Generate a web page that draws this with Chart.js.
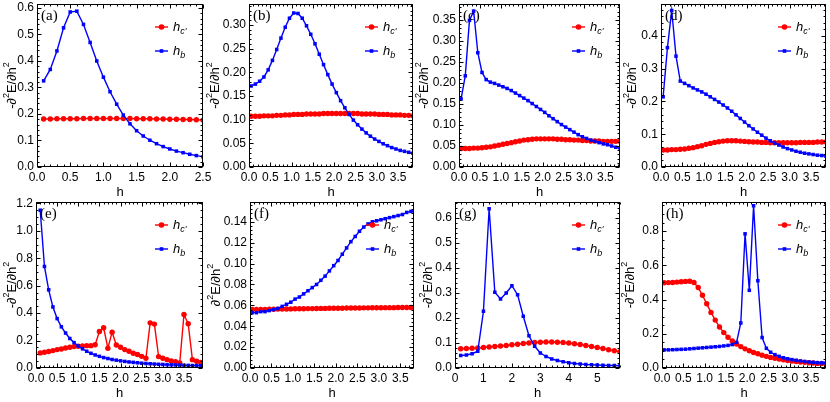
<!DOCTYPE html>
<html>
<head>
<meta charset="utf-8">
<script src="https://cdn.jsdelivr.net/npm/chart.js@4"></script>
<style>
  html, body { margin: 0; padding: 0; background: #fff; }
  #wrap { position: relative; width: 830px; height: 402px; overflow: hidden; }
  #wrap canvas { position: absolute; left: 0; top: 0; }
</style>
</head>
<body>
<div id="wrap">
  <canvas id="pa" width="830" height="402"></canvas>
  <canvas id="pb" width="830" height="402"></canvas>
  <canvas id="pc" width="830" height="402"></canvas>
  <canvas id="pd" width="830" height="402"></canvas>
  <canvas id="pe" width="830" height="402"></canvas>
  <canvas id="pf" width="830" height="402"></canvas>
  <canvas id="pg" width="830" height="402"></canvas>
  <canvas id="ph" width="830" height="402"></canvas>
</div>
<script>
// h grids
const hA = [0.1,0.2,0.3,0.4,0.5,0.6,0.7,0.8,0.9,1.0,1.1,1.2,1.3,1.4,1.5,1.6,1.7,1.8,1.9,2.0,2.1,2.2,2.3,2.4,2.5];
const h385 = [0.05,0.15,0.25,0.35,0.45,0.55,0.65,0.75,0.85,0.95,1.05,1.15,1.25,1.35,1.45,1.55,1.65,1.75,1.85,1.95,
              2.05,2.15,2.25,2.35,2.45,2.55,2.65,2.75,2.85,2.95,3.05,3.15,3.25,3.35,3.45,3.55,3.65,3.75,3.85];
const hE = [0.1,0.2,0.3,0.4,0.5,0.6,0.7,0.8,0.9,1.0,1.1,1.2,1.3,1.4,1.5,1.6,1.7,1.8,1.9,2.0,
            2.1,2.2,2.3,2.4,2.5,2.6,2.7,2.8,2.9,3.0,3.1,3.2,3.3,3.4,3.5,3.6,3.7,3.8,3.9];
const hG = [0.2,0.4,0.6,0.8,1.0,1.2,1.4,1.6,1.8,2.0,2.2,2.4,2.6,2.8,3.0,3.2,3.4,3.6,3.8,4.0,
            4.2,4.4,4.6,4.8,5.0,5.2,5.4,5.6,5.8];

// (a)
const hcA = [0.181,0.181,0.182,0.182,0.182,0.182,0.183,0.183,0.183,0.183,0.183,0.183,0.183,0.183,0.182,0.182,0.182,0.181,0.181,0.180,0.180,0.179,0.179,0.178,0.177];
const hbA = [0.325,0.368,0.438,0.525,0.585,0.588,0.538,0.470,0.400,0.339,0.284,0.237,0.196,0.163,0.137,0.117,0.101,0.088,0.077,0.068,0.060,0.054,0.048,0.043,0.039];
// (b)
const hcB = [0.107,0.107,0.107,0.108,0.108,0.108,0.109,0.109,0.110,0.110,0.111,0.111,0.111,0.112,0.112,0.112,0.112,0.113,0.113,0.113,
             0.113,0.113,0.113,0.113,0.113,0.113,0.112,0.112,0.112,0.112,0.111,0.111,0.111,0.110,0.110,0.110,0.109,0.109,0.108];
const hbB = [0.171,0.175,0.181,0.190,0.205,0.225,0.248,0.272,0.295,0.314,0.325,0.324,0.314,0.298,0.280,0.260,0.238,0.216,0.195,0.175,
             0.157,0.140,0.125,0.111,0.099,0.089,0.080,0.072,0.065,0.059,0.054,0.049,0.045,0.041,0.038,0.035,0.033,0.031,0.029];
// (c)
const hcC = [0.044,0.044,0.044,0.045,0.045,0.046,0.047,0.048,0.050,0.052,0.054,0.056,0.058,0.060,0.062,0.064,0.065,0.066,0.067,0.067,
             0.067,0.067,0.067,0.066,0.066,0.065,0.065,0.064,0.064,0.063,0.063,0.062,0.062,0.062,0.061,0.061,0.061,0.061,0.061];
const hbC = [0.162,0.217,0.349,0.371,0.272,0.225,0.208,0.202,0.199,0.195,0.191,0.187,0.182,0.176,0.170,0.164,0.158,0.151,0.144,0.137,
             0.130,0.122,0.115,0.108,0.101,0.095,0.089,0.083,0.077,0.072,0.068,0.064,0.061,0.058,0.055,0.053,0.050,0.047,0.045];
// (d)
const hcD = [0.052,0.052,0.053,0.053,0.054,0.055,0.057,0.059,0.062,0.065,0.069,0.072,0.075,0.077,0.079,0.080,0.080,0.080,0.079,0.078,
             0.077,0.076,0.076,0.075,0.075,0.074,0.074,0.074,0.074,0.074,0.074,0.074,0.075,0.075,0.075,0.075,0.076,0.076,0.076];
const hbD = [0.214,0.364,0.477,0.338,0.262,0.255,0.248,0.241,0.235,0.229,0.222,0.214,0.206,0.198,0.189,0.180,0.170,0.159,0.148,0.137,
             0.126,0.116,0.106,0.097,0.088,0.080,0.073,0.067,0.061,0.056,0.052,0.048,0.045,0.042,0.040,0.038,0.036,0.035,0.033];
// (e)
const hcE = [0.110,0.115,0.120,0.127,0.134,0.139,0.146,0.151,0.156,0.159,0.161,0.163,0.163,0.170,0.266,0.293,0.144,0.261,0.168,0.151,
             0.134,0.122,0.107,0.098,0.085,0.071,0.329,0.320,0.083,0.071,0.061,0.051,0.046,0.037,0.390,0.322,0.061,0.049,0.041];
const hbE = [1.150,0.740,0.570,0.445,0.360,0.300,0.255,0.215,0.185,0.160,0.140,0.122,0.107,0.095,0.085,0.076,0.069,0.062,0.057,0.052,
             0.048,0.044,0.041,0.038,0.035,0.033,0.031,0.029,0.027,0.026,0.024,0.023,0.022,0.021,0.020,0.019,0.018,0.018,0.017];
// (f)
const hcF = [0.0560,0.0561,0.0561,0.0562,0.0563,0.0563,0.0564,0.0565,0.0565,0.0566,0.0567,0.0567,0.0568,0.0569,0.0569,0.0570,0.0571,0.0571,0.0572,0.0572,
             0.0573,0.0573,0.0574,0.0574,0.0575,0.0575,0.0576,0.0576,0.0577,0.0577,0.0577,0.0578,0.0578,0.0578,0.0579,0.0579,0.0579,0.0580,0.0580];
const hbF = [0.053,0.053,0.054,0.054,0.055,0.056,0.057,0.059,0.061,0.063,0.066,0.068,0.071,0.074,0.077,0.080,0.084,0.088,0.093,0.098,
             0.103,0.109,0.115,0.121,0.126,0.131,0.135,0.138,0.140,0.141,0.142,0.143,0.144,0.145,0.146,0.147,0.149,0.150,0.151];
// (g)
const hcG = [0.077,0.078,0.079,0.080,0.082,0.084,0.086,0.088,0.090,0.093,0.095,0.098,0.100,0.102,0.103,0.104,0.104,0.103,0.102,0.100,
             0.097,0.094,0.090,0.086,0.082,0.078,0.073,0.069,0.065];
const hbG = [0.050,0.052,0.057,0.067,0.227,0.637,0.303,0.276,0.300,0.329,0.293,0.207,0.129,0.087,0.060,0.046,0.036,0.030,0.025,0.021,
             0.018,0.016,0.014,0.013,0.012,0.011,0.010,0.010,0.009];
// (h)
const hcH = [0.498,0.499,0.500,0.502,0.504,0.506,0.507,0.500,0.470,0.425,0.375,0.325,0.280,0.240,0.207,0.180,0.158,0.140,0.125,0.112,
             0.101,0.091,0.083,0.075,0.068,0.062,0.057,0.052,0.048,0.044,0.041,0.038,0.035,0.033,0.031,0.029,0.027,0.026,0.024];
const hbH = [0.106,0.106,0.107,0.108,0.109,0.110,0.112,0.114,0.116,0.118,0.120,0.122,0.124,0.126,0.129,0.132,0.137,0.150,0.263,0.784,
             0.454,0.948,0.510,0.178,0.115,0.092,0.078,0.068,0.060,0.054,0.049,0.045,0.041,0.038,0.035,0.033,0.031,0.030,0.029];

// tick values
const xTicksA = [0, 0.5, 1, 1.5, 2, 2.5];
const xTicks35 = [0, 0.5, 1, 1.5, 2, 2.5, 3, 3.5];
const xTicksG = [0, 1, 2, 3, 4, 5];
const yTicksA = [0, 0.1, 0.2, 0.3, 0.4, 0.5, 0.6];
const yTicksB = [0, 0.05, 0.10, 0.15, 0.20, 0.25, 0.30];
const yTicksC = [0, 0.05, 0.10, 0.15, 0.20, 0.25, 0.30, 0.35];
const yTicksD = [0, 0.1, 0.2, 0.3, 0.4];
const yTicksE = [0, 0.2, 0.4, 0.6, 0.8, 1.0, 1.2];
const yTicksF = [0, 0.02, 0.04, 0.06, 0.08, 0.10, 0.12, 0.14];
const yTicksG = [0, 0.1, 0.2, 0.3, 0.4, 0.5, 0.6];
const yTicksH = [0, 0.2, 0.4, 0.6, 0.8];

const RED = 'rgb(255,0,0)';
const BLUE = 'rgb(0,0,255)';
const SANS = '"Liberation Sans", Arial, sans-serif';
const SERIF = '"Liberation Serif", "Times New Roman", serif';

// layout of each panel: frame = [left, top, right, bottom]
const panels = [
  { id: 'pa', tag: '(a)', frame: [37, 2, 203, 167],  h: hA,   hc: hcA, hb: hbA, xmax: 2.5,  ymax: 0.615, xt: xTicksA,  yt: yTicksA, xd: 1, yd: 1, tx: 12,  minus: true },
  { id: 'pb', tag: '(b)', frame: [249, 2, 413, 167], h: h385, hc: hcB, hb: hbB, xmax: 3.85, ymax: 0.344, xt: xTicks35, yt: yTicksB, xd: 1, yd: 2, tx: 215, minus: true },
  { id: 'pc', tag: '(c)', frame: [459, 2, 620, 167], h: h385, hc: hcC, hb: hbC, xmax: 3.85, ymax: 0.388, xt: xTicks35, yt: yTicksC, xd: 1, yd: 2, tx: 424, minus: true },
  { id: 'pd', tag: '(d)', frame: [661, 2, 829, 167], h: h385, hc: hcD, hb: hbD, xmax: 3.85, ymax: 0.497, xt: xTicks35, yt: yTicksD, xd: 1, yd: 1, tx: 632, minus: true },
  { id: 'pe', tag: '(e)', frame: [36, 202, 203, 368], h: hE,   hc: hcE, hb: hbE, xmax: 3.95, ymax: 1.21,  xt: xTicks35, yt: yTicksE, xd: 1, yd: 1, tx: 12,  minus: true },
  { id: 'pf', tag: '(f)', frame: [250, 202, 414, 368], h: h385, hc: hcF, hb: hbF, xmax: 3.82, ymax: 0.159, xt: xTicks35, yt: yTicksF, xd: 1, yd: 2, tx: 216, minus: false },
  { id: 'pg', tag: '(g)', frame: [455, 202, 620, 368], h: hG,   hc: hcG, hb: hbG, xmax: 5.8,  ymax: 0.664, xt: xTicksG,  yt: yTicksG, xd: 0, yd: 1, tx: 428, minus: true },
  { id: 'ph', tag: '(h)', frame: [662, 202, 829, 368], h: h385, hc: hcH, hb: hbH, xmax: 3.85, ymax: 0.97,  xt: xTicks35, yt: yTicksH, xd: 1, yd: 1, tx: 630, minus: true }
];

const AXIS_W = 30, AXIS_H = 20;

function drawRich(ctx, parts, x, y, align) {
  let w = 0;
  parts.forEach(p => { ctx.font = p.f; p.w = ctx.measureText(p.t).width; w += p.w; });
  let cx = align === 'center' ? x - w / 2 : x;
  parts.forEach(p => {
    ctx.font = p.f;
    ctx.fillText(p.t, cx, y + (p.dy || 0));
    cx += p.w;
  });
}

function tickList(major, max) {
  const step = major[1] - major[0];
  const n = Math.abs(step - 0.2) < 1e-9 ? 3 : 4;
  const ms = step / (n + 1);
  const out = [];
  for (let k = 0; ; k++) {
    const v = major[0] + k * ms;
    if (v > max + 1e-9) break;
    out.push({ v: v, major: k % (n + 1) === 0 });
  }
  return out;
}

function framePlugin(p) {
  return {
    id: 'frame_' + p.id,
    afterDraw(chart) {
      const ctx = chart.ctx;
      const a = chart.chartArea;
      const xs = chart.scales.x, ys = chart.scales.y;
      const l = Math.round(a.left) + 0.5, r = Math.round(a.right) - 0.5;
      const t = Math.round(a.top) + 0.5, b = Math.round(a.bottom) - 0.5;
      ctx.save();
      ctx.strokeStyle = '#000';
      ctx.lineWidth = 1;
      ctx.strokeRect(l, t, r - l, b - t);

      // inward ticks on all four sides
      ctx.beginPath();
      tickList(p.xt, p.xmax).forEach(tk => {
        const px = Math.round(xs.getPixelForValue(tk.v)) + 0.5;
        const len = tk.major ? 4 : 2;
        ctx.moveTo(px, b); ctx.lineTo(px, b - len);
        ctx.moveTo(px, t); ctx.lineTo(px, t + len);
      });
      tickList(p.yt, p.ymax).forEach(tk => {
        const py = Math.round(ys.getPixelForValue(tk.v)) + 0.5;
        const len = tk.major ? 4 : 2;
        ctx.moveTo(l, py); ctx.lineTo(l + len, py);
        ctx.moveTo(r, py); ctx.lineTo(r - len, py);
      });
      ctx.stroke();

      ctx.fillStyle = '#000';
      // panel tag
      ctx.font = '15px ' + SERIF;
      ctx.textAlign = 'left';
      ctx.textBaseline = 'alphabetic';
      ctx.fillText(p.tag, a.left + 4, a.top + 15.5);

      // x title
      ctx.textBaseline = 'middle';
      ctx.font = '13px ' + SANS;
      ctx.textAlign = 'center';
      ctx.fillText('h', (a.left + a.right) / 2, a.bottom + 25);

      // y title, rotated
      ctx.textAlign = 'left';
      ctx.save();
      ctx.translate(p.tx, (a.top + a.bottom) / 2);
      ctx.rotate(-Math.PI / 2);
      const f13 = '13px ' + SANS, f9 = '9px ' + SANS;
      drawRich(ctx, [
        { t: (p.minus ? '-' : '') + '\u2202', f: f13 },
        { t: '2', f: f9, dy: -5 },
        { t: 'E/\u2202h', f: f13 },
        { t: '2', f: f9, dy: -5 }
      ], 0, 0, 'center');
      ctx.restore();

      // legend
      const x1 = a.right - 48, x2 = a.right - 35, xm = (x1 + x2) / 2;
      const y1 = a.top + 23, y2 = a.top + 47;
      ctx.lineWidth = 1.4;
      ctx.strokeStyle = RED; ctx.fillStyle = RED;
      ctx.beginPath(); ctx.moveTo(x1, y1); ctx.lineTo(x2, y1); ctx.stroke();
      ctx.beginPath(); ctx.arc(xm, y1, 2.8, 0, Math.PI * 2); ctx.fill();
      ctx.strokeStyle = BLUE; ctx.fillStyle = BLUE;
      ctx.beginPath(); ctx.moveTo(x1, y2); ctx.lineTo(x2, y2); ctx.stroke();
      ctx.fillRect(xm - 1.8, y2 - 1.8, 3.6, 3.6);

      ctx.fillStyle = '#000';
      const fi = 'italic 13px ' + SANS, fs = 'italic 9px ' + SANS;
      drawRich(ctx, [{ t: 'h', f: fi }, { t: "c'", f: fs, dy: 4 }], a.right - 30, y1, 'left');
      drawRich(ctx, [{ t: 'h', f: fi }, { t: 'b', f: fs, dy: 4 }], a.right - 30, y2, 'left');
      ctx.restore();
    }
  };
}

function series(xs, ys, color, style, radius, order) {
  return {
    data: xs.map((x, i) => ({ x: x, y: ys[i] })),
    borderColor: color,
    backgroundColor: color,
    borderWidth: 1.4,
    pointStyle: style,
    pointRadius: radius,
    pointBorderWidth: 0,
    pointBackgroundColor: color,
    tension: 0,
    order: order
  };
}

function zeroPad(s) {
  s.paddingLeft = 0; s.paddingRight = 0; s.paddingTop = 0; s.paddingBottom = 0;
}

panels.forEach(p => {
  const [fl, ft, fr, fb] = p.frame;
  new Chart(document.getElementById(p.id), {
    type: 'line',
    data: {
      datasets: [
        series(p.h, p.hc, RED, 'circle', 2.7, 1),
        series(p.h, p.hb, BLUE, 'rect', 2.5, 0)
      ]
    },
    options: {
      responsive: false,
      animation: false,
      devicePixelRatio: 1,
      events: [],
      layout: { padding: { left: fl - AXIS_W, top: ft, right: 830 - fr, bottom: 402 - fb - AXIS_H } },
      plugins: { legend: { display: false }, tooltip: { enabled: false } },
      scales: {
        x: {
          type: 'linear',
          min: 0,
          max: p.xmax,
          afterBuildTicks: s => { s.ticks = p.xt.map(v => ({ value: v })); },
          afterFit: s => { s.height = AXIS_H; zeroPad(s); },
          grid: { display: false, drawTicks: false },
          border: { display: false },
          ticks: {
            autoSkip: false,
            maxRotation: 0,
            padding: 3,
            color: '#000',
            font: { family: SANS, size: 12 },
            callback: v => Number(v).toFixed(p.xd)
          }
        },
        y: {
          type: 'linear',
          min: 0,
          max: p.ymax,
          afterBuildTicks: s => { s.ticks = p.yt.map(v => ({ value: v })); },
          afterFit: s => { s.width = AXIS_W; zeroPad(s); },
          grid: { display: false, drawTicks: false },
          border: { display: false },
          ticks: {
            autoSkip: false,
            padding: 3,
            color: '#000',
            font: { family: SANS, size: 12 },
            callback: v => Number(v).toFixed(p.yd)
          }
        }
      }
    },
    plugins: [framePlugin(p)]
  });
});
</script>
</body>
</html>
